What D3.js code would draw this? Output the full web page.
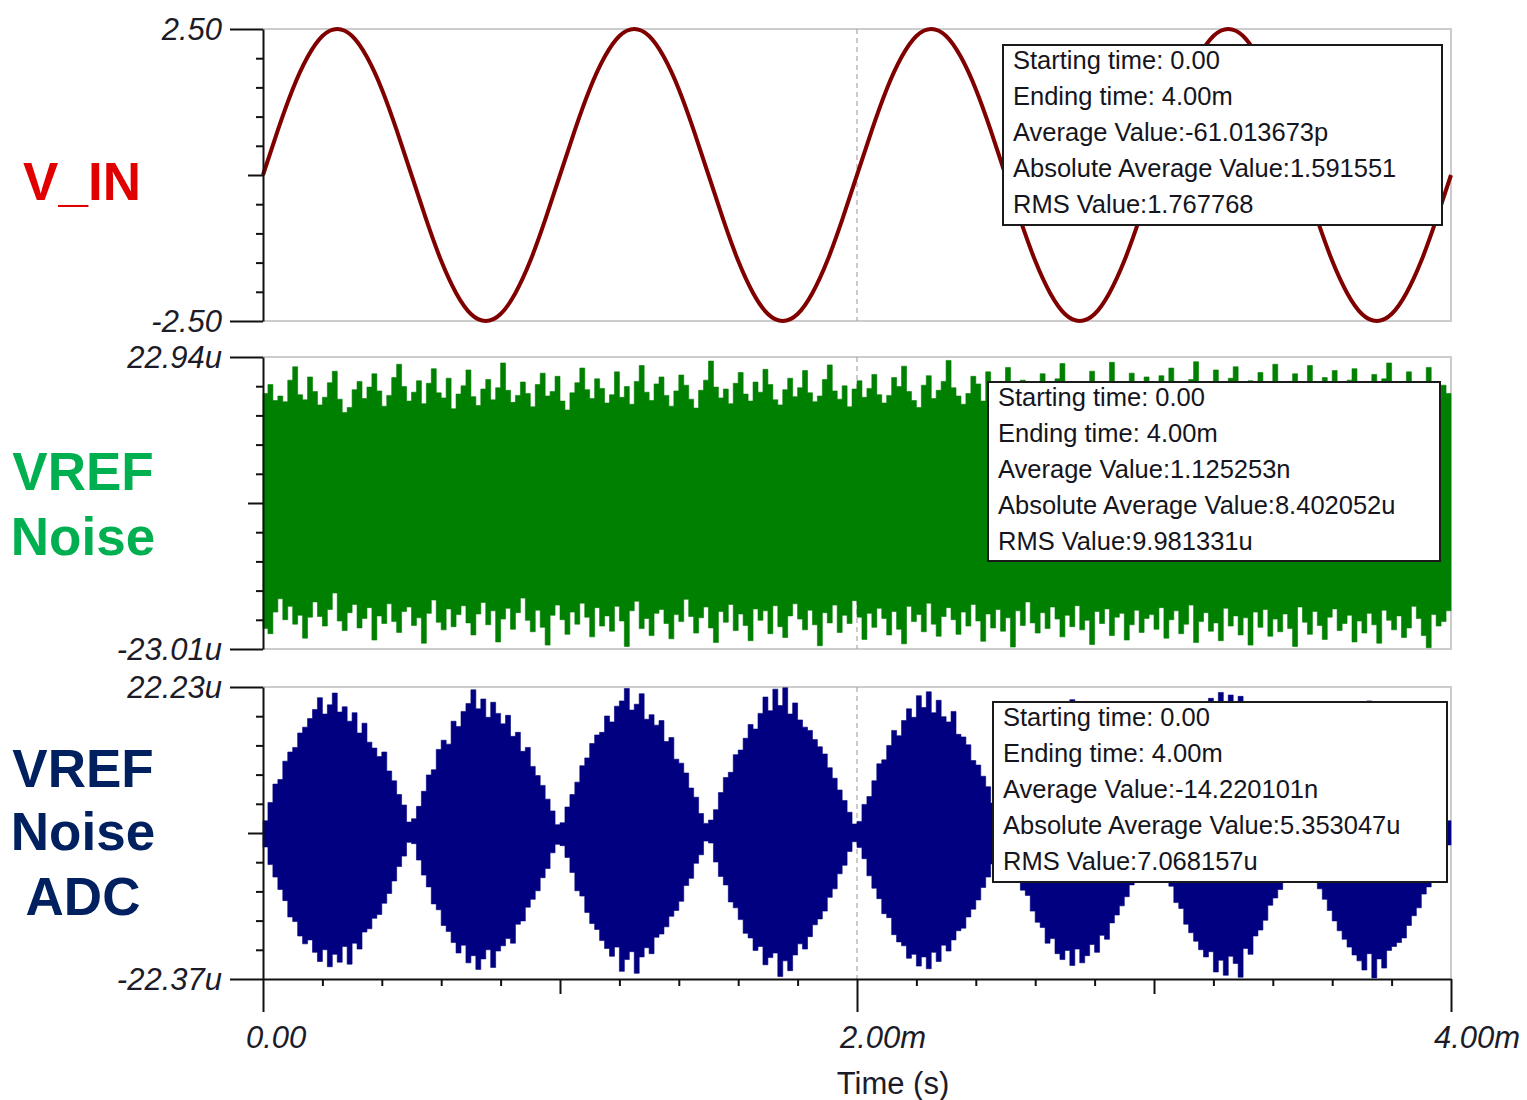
<!DOCTYPE html>
<html><head><meta charset="utf-8">
<script src="https://cdn.jsdelivr.net/npm/d3@7"></script>
<style>body{margin:0;background:#fff} svg{display:block}</style>
</head><body><svg id="c" width="1527" height="1100"></svg>
<script>
// ---------- DATA ----------
const timeDomainMs = [0, 4];
const xTickLabelValues = [0, 2, 4];
const xTickLabels = ["0.00", "2.00m", "4.00m"];
const xAxisTitle = "Time (s)";

// V_IN (V), sampled every 0.05 ms
const sineValues = [
 0,0.77,1.47,2.02,2.38,2.5,2.38,2.02,1.47,0.77,0,-0.77,-1.47,-2.02,-2.38,-2.5,-2.38,-2.02,-1.47,-0.77,
 0,0.77,1.47,2.02,2.38,2.5,2.38,2.02,1.47,0.77,0,-0.77,-1.47,-2.02,-2.38,-2.5,-2.38,-2.02,-1.47,-0.77,
 0,0.77,1.47,2.02,2.38,2.5,2.38,2.02,1.47,0.77,0,-0.77,-1.47,-2.02,-2.38,-2.5,-2.38,-2.02,-1.47,-0.77,
 0,0.77,1.47,2.02,2.38,2.5,2.38,2.02,1.47,0.77,0,-0.77,-1.47,-2.02,-2.38,-2.5,-2.38,-2.02,-1.47,-0.77,
 0];

// VREF noise (uV): upper / lower envelope per 1/60 ms slot
const greenHi = [
 17.2,18.6,16.1,16.8,15.9,19.3,21.4,17.0,16.2,19.8,17.5,15.4,16.6,18.9,20.7,16.3,14.2,15.0,17.8,19.1,
 16.4,18.2,20.3,17.6,15.2,16.9,19.7,21.8,18.3,16.0,17.4,19.2,15.6,18.8,21.1,17.3,16.5,19.6,14.8,17.1,
 18.4,20.9,16.7,15.3,17.9,19.4,16.2,18.1,22.0,17.7,15.8,16.9,19.0,17.2,15.1,18.6,20.4,16.8,17.5,19.9,
 16.0,14.6,17.3,18.9,21.2,17.8,16.4,19.5,18.0,15.7,17.0,20.6,16.6,18.3,15.5,19.1,21.6,17.4,16.1,18.7,
 19.8,16.9,15.2,17.6,20.1,18.5,16.3,14.9,17.7,19.3,22.3,18.2,16.5,17.9,15.6,18.8,20.5,17.1,16.0,19.0,
 17.4,21.0,18.6,16.2,15.4,17.8,19.6,16.7,18.1,20.8,17.3,15.9,16.8,19.4,21.7,17.6,16.3,18.4,15.1,17.9,
 19.2,16.6,18.0,20.2,17.0,15.7,16.9,19.7,18.3,21.5,17.5,16.1,15.0,18.5,20.0,16.4,17.7,19.1,22.4,18.1,
 16.8,15.5,17.2,19.9,18.7,16.0,20.6,17.4,15.8,18.2,21.3,17.0,16.5,19.3,17.8,15.3,18.9,20.3,16.7,17.6,
 19.5,21.9,17.1,16.2,18.4,15.6,17.9,20.7,18.6,16.9,19.0,22.1,17.7,16.3,18.1,20.4,17.3,15.9,19.8,18.2,
 16.6,20.0,17.5,21.2,18.8,16.1,17.6,19.4,22.2,17.2,16.4,18.7,20.9,17.8,16.0,19.6,21.4,18.0,16.7,19.2,
 17.4,20.5,18.3,16.5,21.8,17.9,16.2,19.1,20.3,17.0,18.6,21.6,17.3,16.8,19.7,18.1,20.8,17.5,16.3,19.3,
 21.1,17.7,16.4,18.9,20.2,17.1,19.5,22.0,18.4,16.6,17.8,20.6,18.2,16.9,19.0,21.3,17.6,16.0,18.5,17.2];
const greenLo = [
 -19.8,-20.6,-17.2,-15.1,-18.4,-16.3,-19.1,-17.7,-21.3,-18.0,-15.6,-17.9,-19.4,-16.8,-14.2,-18.6,-20.1,-17.3,-16.0,-19.7,
 -18.2,-16.5,-21.6,-17.8,-19.0,-15.9,-18.7,-20.4,-17.1,-16.4,-19.3,-18.1,-22.1,-17.4,-15.3,-18.8,-20.0,-16.7,-19.5,-17.6,
 -16.2,-18.9,-20.8,-17.5,-15.7,-19.2,-17.0,-21.9,-18.3,-16.6,-19.9,-17.3,-15.0,-18.5,-20.3,-16.9,-19.6,-22.4,-17.7,-16.1,
 -18.4,-20.7,-17.2,-19.1,-15.8,-18.0,-21.1,-16.5,-19.4,-17.8,-20.2,-16.3,-18.6,-22.6,-17.0,-15.5,-19.8,-18.2,-20.9,-17.4,
 -16.8,-19.0,-21.4,-17.6,-18.7,-15.2,-17.9,-20.5,-18.1,-16.4,-19.7,-22.0,-17.1,-18.8,-16.0,-20.1,-17.5,-19.3,-21.7,-16.7,
 -18.5,-17.0,-20.6,-16.2,-19.5,-21.2,-17.8,-15.9,-18.3,-20.0,-16.9,-19.2,-22.5,-17.3,-18.9,-16.1,-20.4,-17.7,-19.0,-15.4,
 -18.0,-21.5,-17.4,-19.6,-16.6,-18.2,-20.8,-17.1,-19.9,-22.2,-16.3,-18.7,-17.6,-20.3,-15.8,-19.1,-21.0,-17.9,-16.5,-18.4,
 -20.7,-17.2,-19.4,-16.0,-18.6,-21.8,-17.5,-19.7,-16.8,-20.2,-18.1,-22.7,-17.0,-19.3,-15.6,-18.9,-20.5,-17.3,-19.8,-16.4,
 -18.3,-21.1,-17.7,-19.5,-16.2,-20.0,-18.5,-22.3,-17.1,-19.0,-16.7,-20.9,-18.0,-17.4,-21.6,-19.2,-16.9,-20.4,-18.2,-17.6,
 -19.9,-16.5,-21.3,-18.4,-17.0,-20.6,-19.1,-16.1,-22.0,-18.7,-17.3,-20.2,-18.9,-21.7,-16.6,-19.4,-17.8,-20.8,-18.1,-22.4,
 -17.2,-19.6,-16.8,-21.0,-18.3,-20.3,-17.5,-19.8,-22.6,-16.4,-18.8,-20.7,-17.1,-19.3,-21.5,-18.0,-16.7,-20.1,-19.0,-17.7,
 -21.9,-18.6,-20.5,-17.4,-19.2,-22.1,-16.9,-18.5,-20.0,-17.8,-21.2,-19.7,-16.3,-18.2,-20.9,-22.8,-17.6,-19.4,-18.7,-17.0];

// VREF noise seen by ADC (uV): upper / lower envelope per 1/60 ms slot
const blueHi = [
 1.8,4.6,7.4,8.1,10.9,12.3,13.0,15.2,16.1,17.4,18.8,20.6,18.1,19.5,21.3,18.4,19.2,17.0,18.3,15.2,16.7,13.8,12.9,11.6,12.3,9.4,7.9,5.8,4.2,1.6,
 2.1,4.0,6.3,8.8,9.6,12.7,14.1,13.5,17.0,16.2,18.5,19.7,21.8,18.9,20.4,17.6,19.9,18.2,16.6,17.9,14.7,15.3,12.4,13.0,10.1,8.7,7.2,5.1,3.3,1.2,
 1.5,3.9,5.8,7.7,10.2,11.4,13.6,14.9,15.3,17.8,16.9,19.3,20.1,22.0,18.7,19.6,21.2,17.3,18.0,16.4,17.1,13.9,14.5,11.2,10.6,9.1,6.8,5.4,2.9,1.4,
 1.9,3.5,6.1,8.4,9.2,11.9,12.6,14.4,16.5,15.8,18.2,20.7,18.6,21.9,19.4,22.1,18.1,19.8,17.2,16.1,15.6,14.2,13.1,12.0,9.9,8.3,6.5,4.9,3.1,1.3,
 1.7,4.3,5.5,7.9,10.5,11.1,13.3,15.6,14.8,17.1,18.9,17.6,20.9,19.1,21.5,18.3,20.2,17.7,16.9,18.5,15.0,14.6,13.4,11.0,10.3,8.6,7.0,4.5,2.7,1.1,
 1.6,3.8,6.0,8.0,9.9,11.7,12.8,14.6,16.3,15.9,17.5,19.0,18.4,20.3,19.2,18.7,20.0,17.9,16.8,17.3,15.5,14.0,12.5,11.8,9.7,8.5,6.6,4.8,3.0,1.5,
 2.0,4.1,6.2,8.6,10.0,12.1,13.2,15.0,16.0,17.6,18.2,20.5,19.0,21.4,18.8,21.0,19.6,20.8,17.8,16.5,15.8,14.3,12.7,11.4,10.2,8.2,6.7,5.0,3.2,1.3,
 1.4,3.7,5.9,7.6,10.1,11.5,13.4,14.2,16.4,15.7,18.0,19.4,18.5,20.1,18.9,19.7,18.2,17.5,18.6,16.0,15.4,13.7,12.6,11.3,9.5,8.8,6.4,4.6,2.8,1.8];
const blueLo = [
 -2.2,-4.9,-6.8,-8.7,-10.4,-12.9,-13.6,-15.8,-17.0,-16.4,-18.3,-19.7,-17.9,-20.5,-18.6,-19.8,-17.4,-20.1,-16.9,-17.8,-15.2,-14.7,-13.1,-12.5,-10.8,-9.3,-7.4,-5.2,-3.6,-1.5,
 -1.7,-4.2,-6.5,-8.3,-10.9,-11.8,-14.2,-15.1,-16.8,-18.4,-17.2,-19.9,-18.8,-20.9,-19.3,-17.9,-20.6,-18.1,-17.3,-16.2,-16.9,-14.0,-13.5,-11.4,-10.2,-8.9,-6.9,-5.5,-3.1,-1.8,
 -2.0,-3.8,-6.1,-8.9,-9.7,-12.2,-13.9,-14.8,-16.5,-17.7,-18.9,-17.5,-21.2,-19.4,-18.2,-21.5,-19.0,-17.6,-18.5,-16.0,-15.5,-14.4,-12.8,-11.9,-10.5,-8.1,-7.0,-4.7,-3.4,-1.3,
 -1.6,-4.5,-6.7,-8.0,-10.6,-11.5,-13.3,-15.4,-16.1,-18.0,-17.4,-20.2,-19.1,-18.4,-22.0,-19.6,-21.1,-18.7,-17.0,-17.8,-15.9,-14.1,-13.2,-12.0,-9.9,-8.6,-6.3,-5.0,-2.9,-1.4,
 -2.3,-4.0,-6.6,-8.5,-10.1,-12.4,-13.0,-15.6,-16.7,-17.3,-19.2,-18.6,-20.4,-19.0,-20.8,-18.3,-19.7,-17.2,-18.1,-16.4,-15.0,-14.6,-12.9,-11.7,-10.3,-8.4,-6.8,-4.8,-3.2,-1.6,
 -1.9,-4.4,-6.2,-8.8,-9.6,-12.0,-13.7,-14.5,-16.9,-16.2,-18.5,-19.4,-18.0,-20.3,-17.8,-19.9,-18.8,-17.1,-18.3,-15.7,-16.3,-13.8,-12.6,-11.2,-9.8,-8.0,-6.5,-5.3,-3.0,-1.7,
 -2.1,-4.1,-6.9,-8.2,-10.7,-11.6,-14.0,-15.3,-16.6,-17.9,-19.0,-18.2,-21.3,-19.5,-21.8,-18.9,-20.0,-22.1,-17.7,-18.6,-15.8,-14.9,-13.4,-11.1,-10.0,-8.7,-6.4,-4.6,-3.3,-1.2,
 -1.8,-4.3,-6.4,-8.6,-10.2,-11.9,-13.5,-15.0,-16.3,-17.5,-18.7,-19.6,-21.0,-18.5,-22.2,-19.3,-20.7,-18.0,-17.4,-16.8,-16.1,-14.2,-12.7,-11.5,-9.4,-8.3,-6.6,-4.4,-2.6,-1.9];

const panelNames = [["V_IN"], ["VREF", "Noise"], ["VREF", "Noise", "ADC"]];
const yDomains = [[-2.5, 2.5], [-23.01, 22.94], [-22.37, 22.23]];
const yTickLabels = [["2.50", "-2.50"], ["22.94u", "-23.01u"], ["22.23u", "-22.37u"]];
const statLines = [
 ["Starting time: 0.00", "Ending time: 4.00m", "Average Value:-61.013673p", "Absolute Average Value:1.591551", "RMS Value:1.767768"],
 ["Starting time: 0.00", "Ending time: 4.00m", "Average Value:1.125253n", "Absolute Average Value:8.402052u", "RMS Value:9.981331u"],
 ["Starting time: 0.00", "Ending time: 4.00m", "Average Value:-14.220101n", "Absolute Average Value:5.353047u", "RMS Value:7.068157u"]];

// ---------- LAYOUT / STYLE ----------
const FONT = "'Liberation Sans', Arial, Helvetica, sans-serif";
const X0 = 263, X1 = 1451, PH = 292;
const tops = [29, 357, 687];
const nameColors = ["#e00000", "#00b050", "#002060"];
const nameLayout = [{x: 82, y: [200]}, {x: 83, y: [490, 555]}, {x: 83, y: [787, 850, 915]}];
const boxes = [[1003, 45, 439, 180], [988, 382, 452, 179], [993, 702, 454, 180]];

const svg = d3.select("#c");
const x = d3.scaleLinear().domain(timeDomainMs).range([X0, X1]);

const series = [
  {type: "line", values: sineValues, color: "#800000"},
  {type: "band", hi: greenHi, lo: greenLo, color: "#008000"},
  {type: "band", hi: blueHi, lo: blueLo, color: "#000080"}
];

tops.forEach((top, p) => {
  const y = d3.scaleLinear().domain(yDomains[p]).range([top + PH, top]);
  const g = svg.append("g");
  // frame
  g.append("path")
    .attr("d", `M${X0},${top}H${X1}V${top + PH}` + (p < 2 ? `H${X0}` : ""))
    .attr("fill", "none").attr("stroke", "#cccccc").attr("stroke-width", 2);
  // dashed 2m line
  g.append("line").attr("x1", x(2)).attr("x2", x(2)).attr("y1", top).attr("y2", top + PH)
    .attr("stroke", "#a8a8a8").attr("stroke-width", 1.2).attr("stroke-dasharray", "5,4");

  const s = series[p];
  if (s.type === "line") {
    const n = s.values.length;
    const line = d3.line().x((d, i) => x(timeDomainMs[1] * i / (n - 1))).y(d => y(d)).curve(d3.curveNatural);
    g.append("path").datum(s.values).attr("d", line)
      .attr("fill", "none").attr("stroke", s.color).attr("stroke-width", 4).attr("stroke-linejoin", "round");
  } else {
    const n = s.hi.length;
    const data = s.hi.map((h, i) => ({t: timeDomainMs[1] * i / n, hi: h, lo: s.lo[i]}));
    data.push({t: timeDomainMs[1], hi: s.hi[n - 1], lo: s.lo[n - 1]});
    const area = d3.area().x(d => x(d.t)).y0(d => y(d.lo)).y1(d => y(d.hi)).curve(d3.curveStepAfter);
    g.append("path").datum(data).attr("d", area).attr("fill", s.color).attr("stroke", s.color).attr("stroke-width", 0.6);
  }

  // y axis
  const [d0, d1] = yDomains[p];
  const tv = d3.range(11).map(i => d1 - (d1 - d0) * i / 10);
  const ax = g.append("g").attr("transform", `translate(${X0},0)`)
    .call(d3.axisLeft(y).tickValues(tv).tickSize(7).tickSizeOuter(0).tickFormat(""));
  ax.select(".domain").attr("stroke", "#111").attr("stroke-width", 2);
  ax.selectAll(".tick line").attr("stroke", "#111").attr("stroke-width", 2)
    .attr("x2", (d, i) => (i === 0 || i === 10) ? -33 : (i === 5 ? -15 : -7));
  // y tick labels
  [d1, d0].forEach((v, k) => {
    g.append("text").attr("x", X0 - 41).attr("y", y(v)).attr("dy", "0.36em")
      .attr("text-anchor", "end").attr("font-family", FONT).attr("font-style", "italic")
      .attr("font-size", 31).attr("fill", "#1c1c28").text(yTickLabels[p][k]);
  });

  // stats box
  const [bx, by, bw, bh] = boxes[p];
  g.append("rect").attr("x", bx).attr("y", by).attr("width", bw).attr("height", bh)
    .attr("fill", "#fff").attr("stroke", "#1a1a1a").attr("stroke-width", 2);
  statLines[p].forEach((t, k) => {
    g.append("text").attr("x", bx + 10).attr("y", by + 24 + 36 * k)
      .attr("font-family", FONT).attr("font-size", 25.5).attr("fill", "#151520").text(t);
  });

  // panel name
  panelNames[p].forEach((t, k) => {
    svg.append("text").attr("x", nameLayout[p].x).attr("y", nameLayout[p].y[k])
      .attr("text-anchor", "middle").attr("font-family", FONT).attr("font-weight", "bold")
      .attr("font-size", 53).attr("fill", nameColors[p]).text(t);
  });
});

// x axis
const xb = tops[2] + PH;
const xtv = d3.range(21).map(i => timeDomainMs[1] * i / 20);
const xa = svg.append("g").attr("transform", `translate(0,${xb})`)
  .call(d3.axisBottom(x).tickValues(xtv).tickSize(7).tickSizeOuter(0).tickFormat(""));
xa.select(".domain").attr("stroke", "#111").attr("stroke-width", 2);
xa.selectAll(".tick line").attr("stroke", "#111").attr("stroke-width", 2)
  .attr("y2", (d, i) => (i % 10 === 0) ? 33 : (i % 5 === 0 ? 15 : 7));
xTickLabelValues.forEach((v, k) => {
  svg.append("text").attr("x", x(v) - 17).attr("y", 1048)
    .attr("font-family", FONT).attr("font-style", "italic").attr("font-size", 31)
    .attr("fill", "#1c1c28").text(xTickLabels[k]);
});
svg.append("text").attr("x", 893).attr("y", 1094).attr("text-anchor", "middle")
  .attr("font-family", FONT).attr("font-size", 31).attr("fill", "#1c1c28").text(xAxisTitle);
</script>
</body></html>
